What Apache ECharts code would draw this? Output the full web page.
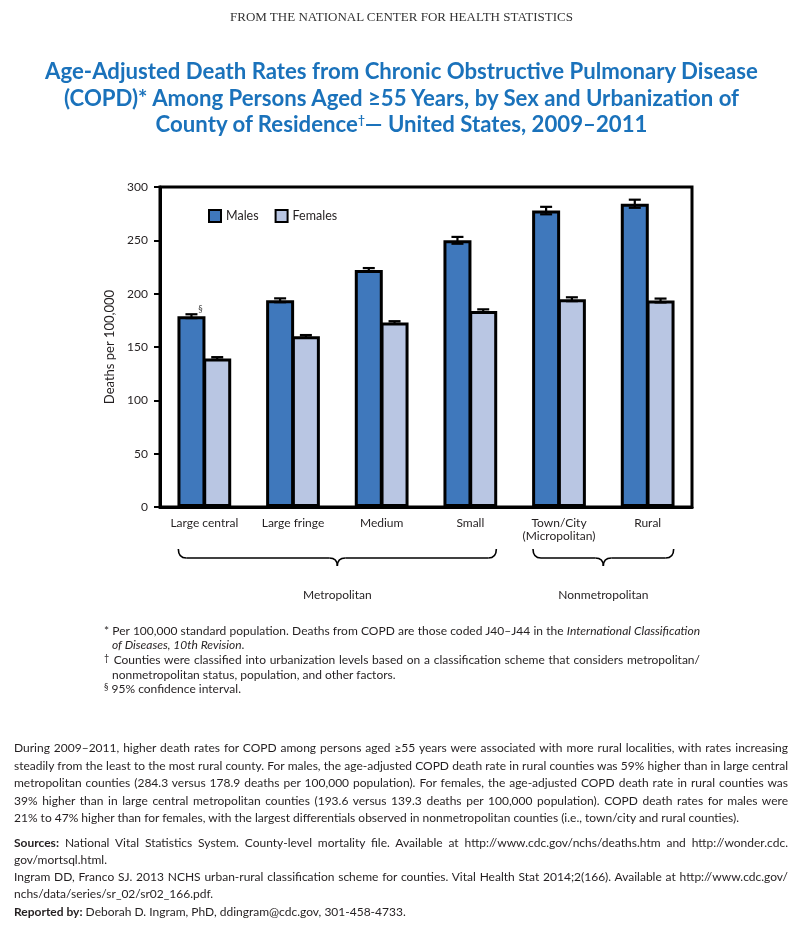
<!DOCTYPE html>
<html>
<head>
<meta charset="utf-8">
<script src="https://cdn.jsdelivr.net/npm/echarts@6/dist/echarts.min.js"></script>
<style>
  html, body { margin:0; padding:0; background:#fff; }
  #page { position:relative; width:803px; height:927px; overflow:hidden; }
  #chart { position:absolute; left:0; top:0; width:803px; height:927px; }
  .txt { position:absolute; font-family: Lato, "Open Sans", sans-serif; color:#231f20; pointer-events:none; }
  #hdr { left:0; width:803px; top:8px; text-align:center; font-family:"Liberation Serif", "DejaVu Serif", serif; font-size:13px; line-height:18px; color:#333; }
  #ttl { left:0; width:803px; top:58px; text-align:center; font-weight:bold; font-size:22.2px; line-height:26.5px; color:#1a72bb; }
  #ttl sup { font-size:12px; vertical-align: 8px; line-height:0; }
  #fn { left:104px; width:596px; top:623.5px; font-size:12px; line-height:14.7px; }
  #fn .l { white-space:nowrap; }
  #fn .j { text-align:justify; text-align-last:justify; }
  #fn .ind { padding-left:8px; }
  #fn sup { font-size:9px; vertical-align:3px; line-height:0; }
  #body { left:14px; width:774px; top:739px; font-size:12px; line-height:17.5px; }
  #body .l { white-space:nowrap; }
  #body .j { text-align:justify; text-align-last:justify; }
  #body .gap { margin-top:7.5px; }
  #body .l2 { line-height:17px; }
</style>
</head>
<body>
<div id="page">
  <div id="chart"></div>
  <div class="txt" id="hdr">FROM THE NATIONAL CENTER FOR HEALTH STATISTICS</div>
  <div class="txt" id="ttl">Age-Adjusted Death Rates from Chronic Obstructive Pulmonary Disease<br>(COPD)* Among Persons Aged ≥55 Years, by Sex and Urbanization of<br>County of Residence<sup>†</sup>— United States, 2009–2011</div>
  <div class="txt" id="fn">
    <div class="l j">* Per 100,000 standard population. Deaths from COPD are those coded J40–J44 in the <i>International Classification</i></div>
    <div class="l ind"><i>of Diseases, 10th Revision</i>.</div>
    <div class="l j"><sup>†</sup> Counties were classified into urbanization levels based on a classification scheme that considers metropolitan/</div>
    <div class="l ind">nonmetropolitan status, population, and other factors.</div>
    <div class="l"><sup>§</sup> 95% confidence interval.</div>
  </div>
  <div class="txt" id="body">
    <div class="l j">During 2009–2011, higher death rates for COPD among persons aged ≥55 years were associated with more rural localities, with rates increasing</div>
    <div class="l j">steadily from the least to the most rural county. For males, the age-adjusted COPD death rate in rural counties was 59% higher than in large central</div>
    <div class="l j">metropolitan counties (284.3 versus 178.9 deaths per 100,000 population). For females, the age-adjusted COPD death rate in rural counties was</div>
    <div class="l j">39% higher than in large central metropolitan counties (193.6 versus 139.3 deaths per 100,000 population). COPD death rates for males were</div>
    <div class="l">21% to 47% higher than for females, with the largest differentials observed in nonmetropolitan counties (i.e., town/city and rural counties).</div>
    <div class="l l2 j gap"><b>Sources:</b> National Vital Statistics System. County-level mortality file. Available at http://www.cdc.gov/nchs/deaths.htm and http://wonder.cdc.</div>
    <div class="l l2">gov/mortsql.html.</div>
    <div class="l l2 j">Ingram DD, Franco SJ. 2013 NCHS urban-rural classification scheme for counties. Vital Health Stat 2014;2(166). Available at http://www.cdc.gov/</div>
    <div class="l l2">nchs/data/series/sr_02/sr02_166.pdf.</div>
    <div class="l" style="margin-top:0.5px"><b>Reported by:</b> Deborah D. Ingram, PhD, ddingram@cdc.gov, 301-458-4733.</div>
  </div>
</div>
<script>
// ---- data ----
const categories = ['Large central', 'Large fringe', 'Medium', 'Small', 'Town/City\n(Micropolitan)', 'Rural'];
const males   = [178.9, 193.8, 222.2, 250.0, 277.9, 284.3];
const females = [139.3, 160.0, 173.0, 183.8, 194.8, 193.6];
const malesCI   = [1.8, 1.8, 1.8, 3.2, 3.5, 3.8];   // half-width of 95% CI
const femalesCI = [1.2, 1.2, 1.2, 1.5, 1.8, 1.8];
const yTicks = [0, 50, 100, 150, 200, 250, 300];
const groups = [
  { name: 'Metropolitan', from: 0, to: 3 },
  { name: 'Nonmetropolitan', from: 4, to: 5 }
];

const FONT = 'Lato, "Open Sans", sans-serif';
const BAR_W = 28;
const GAP_FRAC = 0.08;                       // bars share their border
const OVERLAP = BAR_W * GAP_FRAC;
const CENTER_OFF = (BAR_W - OVERLAP) / 2;
const maleColor = '#3f78bc';
const femaleColor = '#b9c6e3';

const chart = echarts.init(document.getElementById('chart'), null, { renderer: 'canvas' });

function errData(vals, ci) {
  return vals.map((v, i) => [i, v - ci[i], v + ci[i]]);
}
function errSeries(name, data, offset) {
  return {
    type: 'custom',
    name: name + ' CI',
    data: data,
    z: 10,
    silent: true,
    encode: { x: 0, y: [1, 2] },
    renderItem: function (params, api) {
      const top = api.coord([api.value(0), api.value(2)]);
      const bot = api.coord([api.value(0), api.value(1)]);
      const x = top[0] + offset;
      const hw = 6;
      const st = { stroke: '#000', lineWidth: 2.2 };
      return {
        type: 'group',
        children: [
          { type: 'line', shape: { x1: x, y1: top[1], x2: x, y2: bot[1] }, style: st },
          { type: 'line', shape: { x1: x - hw, y1: top[1], x2: x + hw, y2: top[1] }, style: st },
          { type: 'line', shape: { x1: x - hw, y1: bot[1], x2: x + hw, y2: bot[1] }, style: st }
        ]
      };
    }
  };
}

const maleData = males.map((v, i) => i === 0
  ? { value: v, label: { show: true, formatter: '§', position: 'top', offset: [9, 2], fontSize: 9, color: '#444', fontFamily: FONT } }
  : v);

const option = {
  animation: false,
  textStyle: { fontFamily: FONT },
  grid: { left: 160, top: 187, width: 532, height: 320, show: true, borderColor: '#000', borderWidth: 3, backgroundColor: 'transparent' },
  legend: {
    left: 208, top: 209, padding: 0,
    itemWidth: 12, itemHeight: 12, itemGap: 16,
    icon: 'rect',
    itemStyle: { borderColor: '#000', borderWidth: 2 },
    textStyle: { fontSize: 12.5, color: '#231f20', fontFamily: FONT },
    data: ['Males', 'Females']
  },
  xAxis: {
    type: 'category',
    data: categories,
    axisLine: { lineStyle: { color: '#000', width: 3 } },
    axisTick: { alignWithLabel: true, length: 7, lineStyle: { color: '#000', width: 2.5 } },
    axisLabel: { fontSize: 12, color: '#231f20', margin: 10, lineHeight: 13, fontFamily: FONT, interval: 0 }
  },
  yAxis: {
    type: 'value',
    min: yTicks[0], max: yTicks[yTicks.length - 1], interval: yTicks[1] - yTicks[0],
    name: 'Deaths per 100,000',
    nameLocation: 'middle', nameGap: 38, nameRotate: 90,
    nameTextStyle: { fontSize: 13, color: '#231f20', fontFamily: FONT },
    splitLine: { show: false },
    axisLine: { show: true, lineStyle: { color: '#000', width: 3 } },
    axisTick: { show: true, length: 6, lineStyle: { color: '#000', width: 2 } },
    axisLabel: { fontSize: 12, color: '#231f20', margin: 12, fontFamily: FONT }
  },
  series: [
    {
      name: 'Males', type: 'bar', data: maleData, barWidth: BAR_W, barGap: (-GAP_FRAC * 100) + '%',
      itemStyle: { color: maleColor, borderColor: '#000', borderWidth: 3 }
    },
    {
      name: 'Females', type: 'bar', data: females, barWidth: BAR_W, barGap: (-GAP_FRAC * 100) + '%',
      itemStyle: { color: femaleColor, borderColor: '#000', borderWidth: 3 }
    },
    errSeries('Males', errData(males, malesCI), -CENTER_OFF),
    errSeries('Females', errData(females, femalesCI), CENTER_OFF)
  ]
};
chart.setOption(option);

// Braces + group labels derived from the category axis positions
const braceTop = 549, braceMid = 558, braceTip = 566, labelY = 595;
const gfx = [];
const bst = { stroke: '#000', lineWidth: 1.6, fill: null };
groups.forEach(g => {
  const x0 = chart.convertToPixel({ xAxisIndex: 0 }, g.from) - BAR_W + 2;
  const x1 = chart.convertToPixel({ xAxisIndex: 0 }, g.to) + BAR_W - 2;
  const xm = (x0 + x1) / 2;
  const r = 8;
  gfx.push({ type: 'bezierCurve', shape: { x1: x0, y1: braceTop, x2: x0 + r, y2: braceMid, cpx1: x0, cpy1: braceMid }, style: bst });
  gfx.push({ type: 'line', shape: { x1: x0 + r, y1: braceMid, x2: xm - r, y2: braceMid }, style: bst });
  gfx.push({ type: 'bezierCurve', shape: { x1: xm - r, y1: braceMid, x2: xm, y2: braceTip, cpx1: xm, cpy1: braceMid }, style: bst });
  gfx.push({ type: 'bezierCurve', shape: { x1: xm + r, y1: braceMid, x2: xm, y2: braceTip, cpx1: xm, cpy1: braceMid }, style: bst });
  gfx.push({ type: 'line', shape: { x1: xm + r, y1: braceMid, x2: x1 - r, y2: braceMid }, style: bst });
  gfx.push({ type: 'bezierCurve', shape: { x1: x1, y1: braceTop, x2: x1 - r, y2: braceMid, cpx1: x1, cpy1: braceMid }, style: bst });
  gfx.push({ type: 'text', x: xm, y: labelY, style: { text: g.name, fill: '#231f20', font: '12px ' + FONT, textAlign: 'center', textVerticalAlign: 'middle' } });
});
chart.setOption({ graphic: gfx });
</script>
</body>
</html>
